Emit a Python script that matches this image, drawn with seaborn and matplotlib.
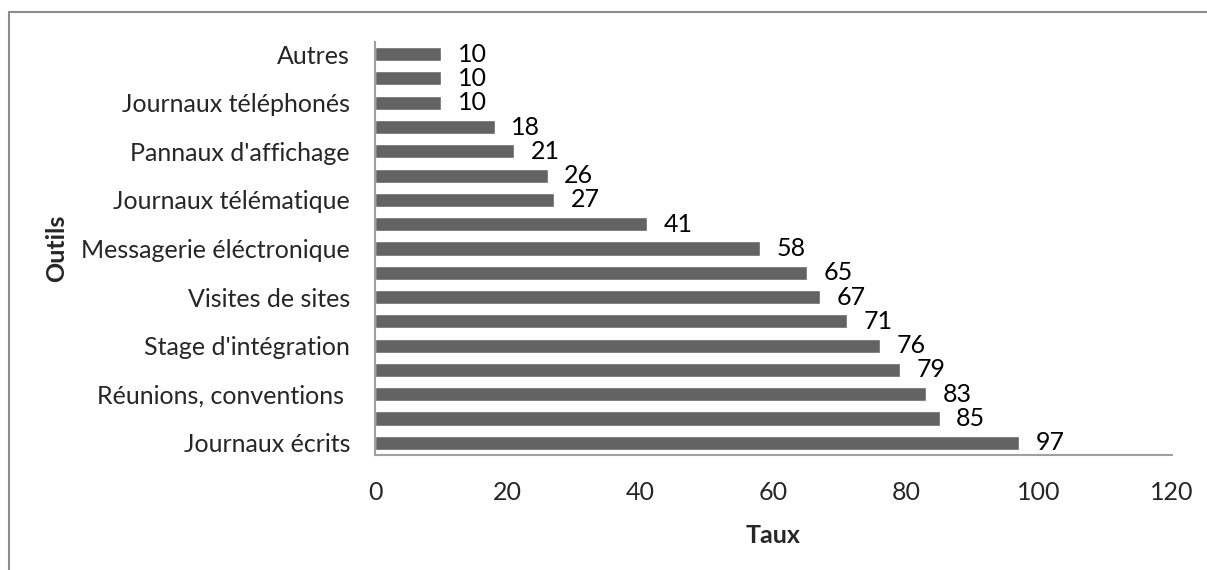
import matplotlib
matplotlib.use("Agg")
import matplotlib.pyplot as plt
import pandas as pd
import seaborn as sns
from matplotlib.lines import Line2D

# valeurs du bas vers le haut
valeurs = [97, 85, 83, 79, 76, 71, 67, 65, 58, 41, 27, 26, 21, 18, 10, 10, 10]
etiquettes = [
    "Journaux écrits", "", "Réunions, conventions ", "", "Stage d'intégration", "",
    "Visites de sites", "", "Messagerie éléctronique", "", "Journaux télématique", "",
    "Pannaux d'affichage", "", "Journaux téléphonés", "", "Autres",
]
graduations_x = [0, 20, 40, 60, 80, 100, 120]

df = pd.DataFrame({"rang": range(len(valeurs)), "Taux": valeurs})
ordre = list(range(len(valeurs)))[::-1]

sns.set_theme(style="white")
plt.rcParams["font.family"] = ["Lato", "DejaVu Sans"]

fig = plt.figure(figsize=(12.07, 5.70), dpi=100)
ax = fig.add_axes([0.3107, 0.2018, 0.6603, 0.7245])

sns.barplot(data=df, x="Taux", y="rang", order=ordre, orient="h",
            color="#636363", saturation=1, width=0.58, ax=ax)

ax.bar_label(ax.containers[0], padding=12, fontsize=18, color="black")

ax.set_xlim(0, 120)
ax.set_xticks(graduations_x)
ax.set_xticklabels([str(v) for v in graduations_x], fontsize=18)
ax.set_ylim(len(valeurs) - 0.5, -0.5)
ax.set_yticks(range(len(valeurs)))
ax.set_yticklabels(etiquettes[::-1], fontsize=18)
ax.tick_params(axis="x", length=0, pad=19)
ax.tick_params(axis="y", length=0, pad=18)

ax.set_xlabel("Taux", fontsize=18, fontweight="bold", labelpad=14)
ax.set_ylabel("Outils", fontsize=18, fontweight="bold")
ax.yaxis.set_label_coords(-0.385, 0.5)

for cote in ["top", "right"]:
    ax.spines[cote].set_visible(False)
for cote in ["left", "bottom"]:
    ax.spines[cote].set_color("#a0a0a0")
    ax.spines[cote].set_linewidth(1.5)

# cadre extérieur (haut et gauche)
fig.add_artist(Line2D([0.0075, 1.0], [0.979, 0.979], color="#8c8c8c", lw=1.5))
fig.add_artist(Line2D([0.0075, 0.0075], [0.0, 0.979], color="#8c8c8c", lw=1.5))

fig.savefig("out.png", dpi=100)
